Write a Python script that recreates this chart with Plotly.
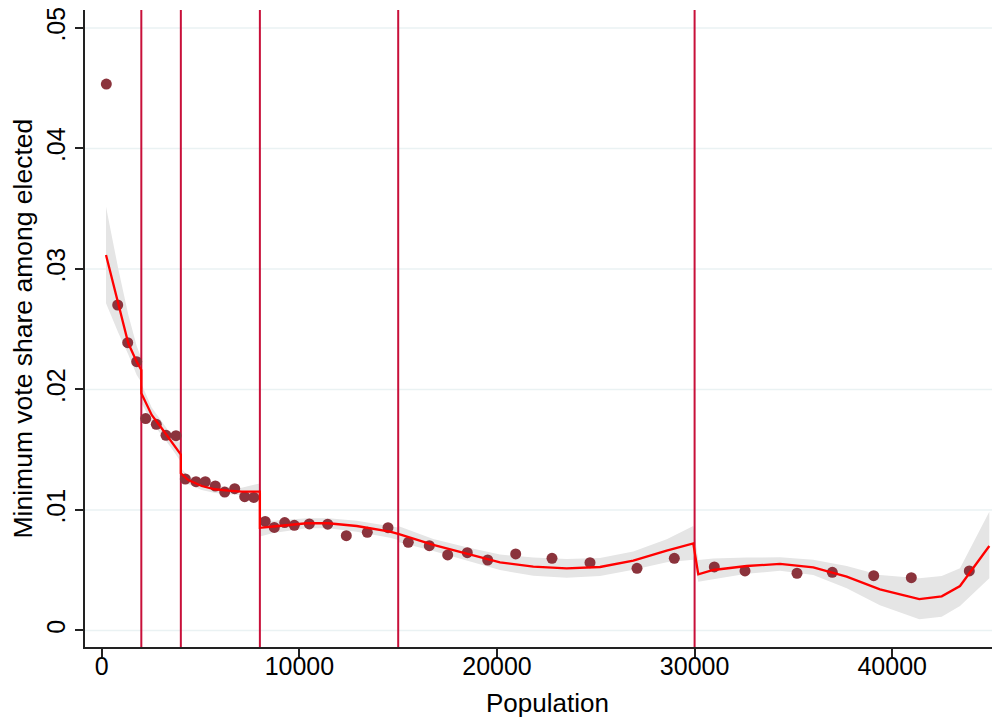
import plotly.graph_objects as go

# ---- binned scatter points ----
pop = [230, 805, 1311, 1766, 2222, 2758, 3249, 3755, 4226, 4767, 5238, 5744, 6220, 6726,
       7232, 7692, 8269, 8730, 9256, 9742, 10501, 11432, 12374, 13436, 14484, 15511,
       16574, 17505, 18497, 19529, 20946, 22783, 24706, 27085, 28973, 30997, 32551,
       35182, 36969, 39064, 40967, 43902]
share = [0.04534, 0.02701, 0.02388, 0.02231, 0.01759, 0.01711, 0.01620, 0.01617, 0.01257,
         0.01235, 0.01235, 0.01199, 0.01149, 0.01177, 0.01110, 0.01104, 0.00905, 0.00855,
         0.00896, 0.00873, 0.00884, 0.00882, 0.00787, 0.00815, 0.00853, 0.00732, 0.00704,
         0.00627, 0.00646, 0.00585, 0.00635, 0.00599, 0.00563, 0.00516, 0.00599, 0.00527,
         0.00494, 0.00475, 0.00483, 0.00455, 0.00438, 0.00494]

# ---- piecewise polynomial fit with confidence interval ----
fit_x = [213, 835, 1341, 1766, 2000,
         2000, 2525, 3031, 3537, 4000,
         4000, 4377, 5056, 5729, 6402, 7080, 8000,
         8000, 8679, 10369, 11462, 12900, 14585, 15000,
         15000, 16776, 18466, 20152, 21837, 23522, 25212, 26897, 28588, 29934,
         30187, 30946, 32637, 34322, 36007, 37697, 39378, 41371, 42505, 43431, 44914]
fit_y = [0.03116, 0.02701, 0.02383, 0.02231, 0.02162,
         0.01968, 0.01788, 0.01678, 0.01567, 0.01460,
         0.01305, 0.01249, 0.01199, 0.01172, 0.01160, 0.01152, 0.01152,
         0.00852, 0.00863, 0.00890, 0.00890, 0.00867, 0.00820, 0.00801,
         0.00801, 0.00710, 0.00635, 0.00566, 0.00530, 0.00516, 0.00527, 0.00580, 0.00662, 0.00722,
         0.00466, 0.00502, 0.00535, 0.00552, 0.00524, 0.00447, 0.00342, 0.00261, 0.00284, 0.00369, 0.00701]
ci_hi = [0.03517, 0.03000, 0.02620, 0.02360, 0.02260,
         0.02050, 0.01850, 0.01730, 0.01620, 0.01550,
         0.01346, 0.01285, 0.01233, 0.01203, 0.01190, 0.01185, 0.01220,
         0.00920, 0.00910, 0.00932, 0.00932, 0.00910, 0.00870, 0.00855,
         0.00867, 0.00760, 0.00690, 0.00631, 0.00605, 0.00594, 0.00602, 0.00655, 0.00757, 0.00867,
         0.00585, 0.00598, 0.00605, 0.00607, 0.00588, 0.00535, 0.00461, 0.00433, 0.00452, 0.00516, 0.00986]
ci_lo = [0.02715, 0.02470, 0.02290, 0.02120, 0.02060,
         0.01890, 0.01730, 0.01620, 0.01510, 0.01400,
         0.01262, 0.01213, 0.01165, 0.01140, 0.01130, 0.01120, 0.01110,
         0.00780, 0.00810, 0.00848, 0.00848, 0.00820, 0.00770, 0.00750,
         0.00735, 0.00660, 0.00580, 0.00501, 0.00455, 0.00438, 0.00452, 0.00505, 0.00567, 0.00588,
         0.00405, 0.00425, 0.00470, 0.00496, 0.00460, 0.00350, 0.00210, 0.00093, 0.00115, 0.00203, 0.00433]

thresholds = [2000, 4000, 8000, 15000, 30000]

x_ticks = [0, 10000, 20000, 30000, 40000]
x_ticktext = ["0", "10000", "20000", "30000", "40000"]
y_ticks = [0, 0.01, 0.02, 0.03, 0.04, 0.05]
y_ticktext = ["0", ".01", ".02", ".03", ".04", ".05"]

x_title = "Population"
y_title = "Minimum vote share among elected"

x_range = [-850, 45455]
y_range = [-0.00137, 0.05149]

FONT = "Liberation Sans, Arial, sans-serif"

fig = go.Figure()

# horizontal grid lines at the y ticks
for yv in y_ticks:
    fig.add_shape(type="line", xref="paper", x0=0, x1=1, yref="y", y0=yv, y1=yv,
                  line=dict(color="#eaf2f3", width=1.5), layer="below")

# CI band
fig.add_trace(go.Scatter(
    x=fit_x + fit_x[::-1], y=ci_hi + ci_lo[::-1],
    fill="toself", fillcolor="#e5e5e5", line=dict(width=0, color="#e5e5e5"),
    mode="lines", hoverinfo="skip", showlegend=False))

# threshold lines
vx, vy = [], []
for t in thresholds:
    vx += [t, t, None]
    vy += [y_range[0], y_range[1], None]
fig.add_trace(go.Scatter(x=vx, y=vy, mode="lines",
                         line=dict(color="#c8103a", width=2), showlegend=False, hoverinfo="skip"))

# scatter points
fig.add_trace(go.Scatter(x=pop, y=share, mode="markers",
                         marker=dict(color="#8b333c", size=11, line=dict(width=0)),
                         showlegend=False))

# fit line
fig.add_trace(go.Scatter(x=fit_x, y=fit_y, mode="lines",
                         line=dict(color="#ff0000", width=2.3), showlegend=False))

# page has an 8px body margin: size figure so the plot lands where the reference has it
fig.update_layout(
    width=992, height=710,
    margin=dict(l=77, r=0, t=2, b=71, autoexpand=False),
    paper_bgcolor="white", plot_bgcolor="white",
    font=dict(family=FONT, size=25, color="black"),
    showlegend=False,
)
fig.update_xaxes(
    range=x_range, tickvals=x_ticks, ticktext=x_ticktext,
    showgrid=False, zeroline=False,
    showline=True, linecolor="#222", linewidth=1.5,
    ticks="outside", ticklen=8, tickwidth=1.5, tickcolor="#222",
    tickfont=dict(size=25), ticklabelstandoff=-12,
)
fig.update_yaxes(
    range=y_range, tickmode="array", tickvals=y_ticks, ticktext=y_ticktext, tickangle=-90,
    showgrid=False, zeroline=False,
    showline=True, linecolor="#222", linewidth=1.5,
    ticks="outside", ticklen=8, tickwidth=1.5, tickcolor="#222",
    tickfont=dict(size=25), ticklabeloverflow="allow",
)

fig.add_annotation(text=x_title, xref="paper", yref="paper", x=0.505, y=0,
                   yshift=-56, xanchor="center", yanchor="middle", showarrow=False,
                   font=dict(size=26))
fig.add_annotation(text=y_title, xref="paper", yref="paper", x=0, y=0.5,
                   xshift=-63, xanchor="center", yanchor="middle", textangle=-90,
                   showarrow=False, font=dict(size=26.5))

fig.write_html("out.html")
